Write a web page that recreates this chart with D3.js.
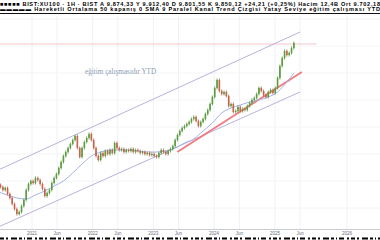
<!DOCTYPE html>
<html><head><meta charset="utf-8">
<script src="https://cdn.jsdelivr.net/npm/d3@7"></script>
<style>body{margin:0;background:#fff}svg{display:block}</style>
</head><body>
<script>
// ---- data ----
const startDate = new Date(2020, 5, 12);
const stepDays = 14;
const closes = [43,41,38,40,34,30,24,19,14,16,22,28,38,44,47,45,50,48,44,39,32,35,38,45,50,54,60,66,72,76,80,84,88,92,80,71,80,86,90,94,88,80,72,68,75,72,77,74,78,75,85,80,78,79,76,78,77,79,76,78,77,75,76,74,75,73,74,72,71,75,78,76,74,77,79,82,88,93,97,100,102,104,106,109,111,107,102,106,109,114,118,124,131,140,148,137,134,136,132,122,124,116,117,121,117,119,118,122,125,128,130,134,140,137,133,131,136,138,135,140,150,162,170,177,173,175,180,185];
const maIndex = [0,4,8,12,16,20,24,28,32,36,40,44,48,52,56,60,64,68,72,76,80,84,88,92,96,100,104,108,112,116,120,124,127];
const maValues = [36,33,30,29,33,37,42,47,55,64,72,76,78,78,78,77,76,76,77,80,85,89,97,105,115,120,123,126,128,131,136,146,155];
const channelUpper = [[new Date(2020,5,12),58],[new Date(2025,5,1),196]];
const channelLower = [[new Date(2020,5,12),1],[new Date(2025,5,1),136]];
const trendRed = [[new Date(2023,4,25),76],[new Date(2025,5,12),156]];
const hLevel = 184;
const hLevelSpan = [new Date(2020,5,12), new Date(2025,7,20)];
const tickLabels = ["2021","Jun","2022","Jun","2023","Jun","2024","Jun","2025","Jun","2026"];
const tickDates = [new Date(2021,0,1),new Date(2021,5,1),new Date(2022,0,1),new Date(2022,5,1),new Date(2023,0,1),new Date(2023,5,1),new Date(2024,0,1),new Date(2024,5,1),new Date(2025,0,1),new Date(2025,5,1),new Date(2026,0,1)];
const title = "eğitim çalışmasıdır YTD";
const header1 = "■■■■■ BIST:XU100 · 1H · BIST  A 9.874,33  Y 9.912,40  D 9.801,55  K 9.850,12  +24,21 (+0,25%)  Hacim 12,4B  Ort 9.702,18";
const header2 = "▬▬▬▬▬ Hareketli Ortalama 50 kapanış 0 SMA 9  Paralel Kanal  Trend Çizgisi  Yatay Seviye  eğitim çalışması YTD";

// ---- layout ----
const W = 380, H = 240;
const svg = d3.select("body").append("svg").attr("width", W).attr("height", H)
  .style("font-family", "'Liberation Sans', Arial, sans-serif");

const x = d3.scaleTime()
  .domain([new Date(2021,0,1), new Date(2025,6,1), new Date(2026,0,1)])
  .range([32, 305, 347]);
const y = d3.scaleLinear().domain([0, 213]).range([228, 15]);

const data = closes.map((c, i) => ({
  date: d3.timeDay.offset(startDate, stepDays * i),
  open: i === 0 ? c : closes[i - 1],
  close: c
}));

// grid
const grid = svg.append("g");
grid.selectAll("line.v").data(tickDates).join("line")
  .attr("x1", d => x(d)).attr("x2", d => x(d)).attr("y1", 16).attr("y2", 229)
  .attr("stroke", "#f0f1f4").attr("stroke-width", 1);
grid.selectAll("line.h").data(d3.range(20, 213, 27)).join("line")
  .attr("x1", 0).attr("x2", W).attr("y1", d => y(d)).attr("y2", d => y(d))
  .attr("stroke", "#f3f4f6").attr("stroke-width", 1);

// horizontal level
svg.append("line")
  .attr("x1", x(hLevelSpan[0])).attr("x2", x(hLevelSpan[1]))
  .attr("y1", y(hLevel)).attr("y2", y(hLevel))
  .attr("stroke", "#f5c6cc").attr("stroke-width", 1);

// channel
const lineGen = d3.line().x(d => x(d[0])).y(d => y(d[1]));
[channelUpper, channelLower].forEach(c => svg.append("path").attr("d", lineGen(c))
  .attr("fill", "none").attr("stroke", "#b9b1dd").attr("stroke-width", 1));

// red trend
svg.append("path").attr("d", lineGen(trendRed))
  .attr("fill", "none").attr("stroke", "#ef6f72").attr("stroke-width", 2).attr("stroke-opacity", 0.9);

// MA
const maPts = maIndex.map((i, k) => [data[i].date, maValues[k]]);
svg.append("path").attr("d", d3.line().curve(d3.curveMonotoneX).x(d => x(d[0])).y(d => y(d[1]))(maPts))
  .attr("fill", "none").attr("stroke", "#a3b3ea").attr("stroke-width", 1);

// candles
const cg = svg.append("g");
cg.selectAll("line").data(data).join("line")
  .attr("x1", d => x(d.date)).attr("x2", d => x(d.date))
  .attr("y1", d => y(Math.max(d.open, d.close)) - 1.5)
  .attr("y2", d => y(Math.min(d.open, d.close)) + 1.5)
  .attr("stroke", d => d.close >= d.open ? "#4f8f3a" : "#b85a45").attr("stroke-width", 0.8);
cg.selectAll("rect").data(data).join("rect")
  .attr("x", d => x(d.date) - 0.8).attr("width", 1.6)
  .attr("y", d => y(Math.max(d.open, d.close)))
  .attr("height", d => Math.max(0.8, Math.abs(y(d.open) - y(d.close))))
  .attr("fill", d => d.close >= d.open ? "#5a9e3e" : "#c4654c");

// title
svg.append("text").attr("x", 85).attr("y", 74).text(title)
  .attr("font-family", "'Liberation Serif', serif").attr("font-size", 7.2).attr("fill", "#8a9bb5");

// axis
svg.append("line").attr("x1", 0).attr("x2", W).attr("y1", 229.5).attr("y2", 229.5)
  .attr("stroke", "#c9ccd2").attr("stroke-width", 1);
svg.selectAll("text.tick").data(tickDates).join("text").attr("class", "tick")
  .attr("x", d => x(d)).attr("y", 235).attr("text-anchor", "middle")
  .attr("font-size", 4.5).attr("fill", "#6b6f78")
  .text((d, i) => tickLabels[i]);

// header
svg.append("text").attr("x", 0).attr("y", 5.5).text(header1)
  .attr("font-size", 5.6).attr("font-weight", "bold").attr("fill", "#000").attr("textLength", 380);
svg.append("text").attr("x", 0).attr("y", 11).text(header2)
  .attr("font-size", 5.6).attr("font-weight", "bold").attr("fill", "#000").attr("textLength", 380);
svg.append("line").attr("x1", 0).attr("x2", W).attr("y1", 13.5).attr("y2", 13.5)
  .attr("stroke", "#111").attr("stroke-width", 1.2);

// bottom strip
svg.append("line").attr("x1", 0).attr("x2", W).attr("y1", 238.5).attr("y2", 238.5)
  .attr("stroke", "#000").attr("stroke-width", 2)
  .attr("stroke-dasharray", "4 2 2 3 6 2 3 2 1 2 5 3 2 2");
</script>
</body></html>
